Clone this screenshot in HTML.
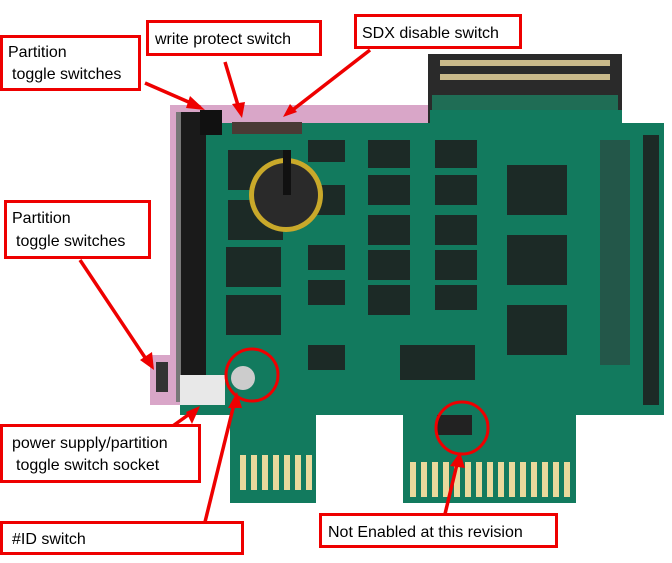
<!DOCTYPE html>
<html><head><style>
html,body{margin:0;padding:0;background:#fff;}
svg{display:block;}
text{font-family:"Liberation Sans",sans-serif;font-size:16px;fill:#000;}
</style></head><body>
<svg width="672" height="563" viewBox="0 0 672 563" xmlns="http://www.w3.org/2000/svg">
<rect width="672" height="563" fill="#fff"/>
<!-- pink background -->
<rect x="170" y="105" width="262" height="300" fill="#d9a6c8"/>
<rect x="150" y="355" width="40" height="50" fill="#d9a6c8"/>
<!-- top connector -->
<rect x="428" y="54" width="194" height="75" fill="#2a2a2a"/>
<g fill="#c9b98a">
<rect x="440" y="60" width="170" height="6"/>
<rect x="440" y="74" width="170" height="6"/>
</g>
<rect x="432" y="95" width="186" height="30" fill="#1f6d55"/>
<!-- board -->
<path d="M180 123 H430 V110 H622 V123 H664 V415 H576 V503 H403 V415 H316 V503 H230 V415 H180 Z" fill="#127a5e"/>
<!-- left connector -->
<rect x="178" y="112" width="28" height="290" fill="#1a1a1a"/>
<rect x="176" y="112" width="5" height="290" fill="#777"/>
<rect x="180" y="375" width="45" height="30" fill="#e8e8e8"/>
<rect x="156" y="362" width="12" height="30" fill="#333"/>
<rect x="200" y="110" width="22" height="25" fill="#111"/>
<!-- switches top -->
<rect x="232" y="122" width="70" height="12" fill="#4a3a35"/>
<!-- chips -->
<g fill="#1c2a26">
<rect x="228" y="150" width="55" height="40"/>
<rect x="228" y="200" width="55" height="40"/>
<rect x="226" y="247" width="55" height="40"/>
<rect x="226" y="295" width="55" height="40"/>
<rect x="308" y="140" width="37" height="22"/>
<rect x="308" y="185" width="37" height="30"/>
<rect x="308" y="245" width="37" height="25"/>
<rect x="308" y="280" width="37" height="25"/>
<rect x="308" y="345" width="37" height="25"/>
<rect x="368" y="140" width="42" height="28"/>
<rect x="368" y="175" width="42" height="30"/>
<rect x="368" y="215" width="42" height="30"/>
<rect x="368" y="250" width="42" height="30"/>
<rect x="368" y="285" width="42" height="30"/>
<rect x="435" y="140" width="42" height="28"/>
<rect x="435" y="175" width="42" height="30"/>
<rect x="435" y="215" width="42" height="30"/>
<rect x="435" y="250" width="42" height="30"/>
<rect x="435" y="285" width="42" height="25"/>
<rect x="400" y="345" width="75" height="35"/>
<rect x="507" y="165" width="60" height="50"/>
<rect x="507" y="235" width="60" height="50"/>
<rect x="507" y="305" width="60" height="50"/>
<rect x="643" y="135" width="16" height="270"/>
</g>
<g fill="#333"><rect x="600" y="140" width="30" height="225" opacity="0.5"/></g>
<!-- battery -->
<circle cx="286" cy="195" r="37" fill="#c9a92a"/>
<circle cx="286" cy="195" r="32" fill="#2a2a2a"/>
<rect x="283" y="150" width="8" height="45" fill="#111"/>
<!-- ID switch -->
<circle cx="243" cy="378" r="12" fill="#ccc"/>
<!-- edge fingers -->
<g fill="#e9d99c">
<rect x="240" y="455" width="6" height="35"/><rect x="251" y="455" width="6" height="35"/><rect x="262" y="455" width="6" height="35"/><rect x="273" y="455" width="6" height="35"/><rect x="284" y="455" width="6" height="35"/><rect x="295" y="455" width="6" height="35"/><rect x="306" y="455" width="6" height="35"/>
<rect x="410" y="462" width="6" height="35"/><rect x="421" y="462" width="6" height="35"/><rect x="432" y="462" width="6" height="35"/><rect x="443" y="462" width="6" height="35"/><rect x="454" y="462" width="6" height="35"/><rect x="465" y="462" width="6" height="35"/><rect x="476" y="462" width="6" height="35"/><rect x="487" y="462" width="6" height="35"/><rect x="498" y="462" width="6" height="35"/><rect x="509" y="462" width="6" height="35"/><rect x="520" y="462" width="6" height="35"/><rect x="531" y="462" width="6" height="35"/><rect x="542" y="462" width="6" height="35"/><rect x="553" y="462" width="6" height="35"/><rect x="564" y="462" width="6" height="35"/>
</g>
<!-- jumper -->
<rect x="437" y="415" width="35" height="20" fill="#222"/>
<!-- circles -->
<g fill="none" stroke="#e00" stroke-width="3">
<circle cx="252" cy="375" r="26"/>
<circle cx="462" cy="428" r="26"/>
</g>
<!-- arrows -->
<g stroke="#e00" stroke-width="3.5" fill="#e00">
<line x1="145" y1="83" x2="200" y2="107"/>
<line x1="225" y1="62" x2="240" y2="112"/>
<line x1="370" y1="50" x2="290" y2="112"/>
<line x1="80" y1="260" x2="150" y2="365"/>
<line x1="170" y1="428" x2="195" y2="410"/>
<line x1="205" y1="522" x2="235" y2="400"/>
<line x1="445" y1="514" x2="458" y2="460"/>
</g>
<g fill="#e00">
<polygon points="205,110 190,96 186,108"/>
<polygon points="242,118 232,104 245,102"/>
<polygon points="283,117 290,104 297,112"/>
<polygon points="154,370 140,360 152,352"/>
<polygon points="200,406 186,412 192,424"/>
<polygon points="237,392 228,408 242,408"/>
<polygon points="460,452 450,466 465,468"/>
</g>
<!-- label boxes -->
<g fill="#fff" stroke="#e00" stroke-width="3">
<rect x="1.5" y="36.5" width="138" height="53"/>
<rect x="147.5" y="21.5" width="173" height="33"/>
<rect x="355.5" y="15.5" width="165" height="32"/>
<rect x="5.5" y="201.5" width="144" height="56"/>
<rect x="1.5" y="425.5" width="198" height="56"/>
<rect x="1.5" y="522.5" width="241" height="31"/>
<rect x="320.5" y="514.5" width="236" height="32"/>
</g>
<text x="8" y="57">Partition</text>
<text x="12" y="79">toggle  switches</text>
<text x="155" y="44">write protect switch</text>
<text x="362" y="38">SDX disable switch</text>
<text x="12" y="223">Partition</text>
<text x="16" y="246">toggle  switches</text>
<text x="12" y="448">power supply/partition</text>
<text x="16" y="470">toggle  switch socket</text>
<text x="12" y="544">#ID switch</text>
<text x="328" y="537">Not Enabled  at this revision</text>
</svg>
</body></html>
